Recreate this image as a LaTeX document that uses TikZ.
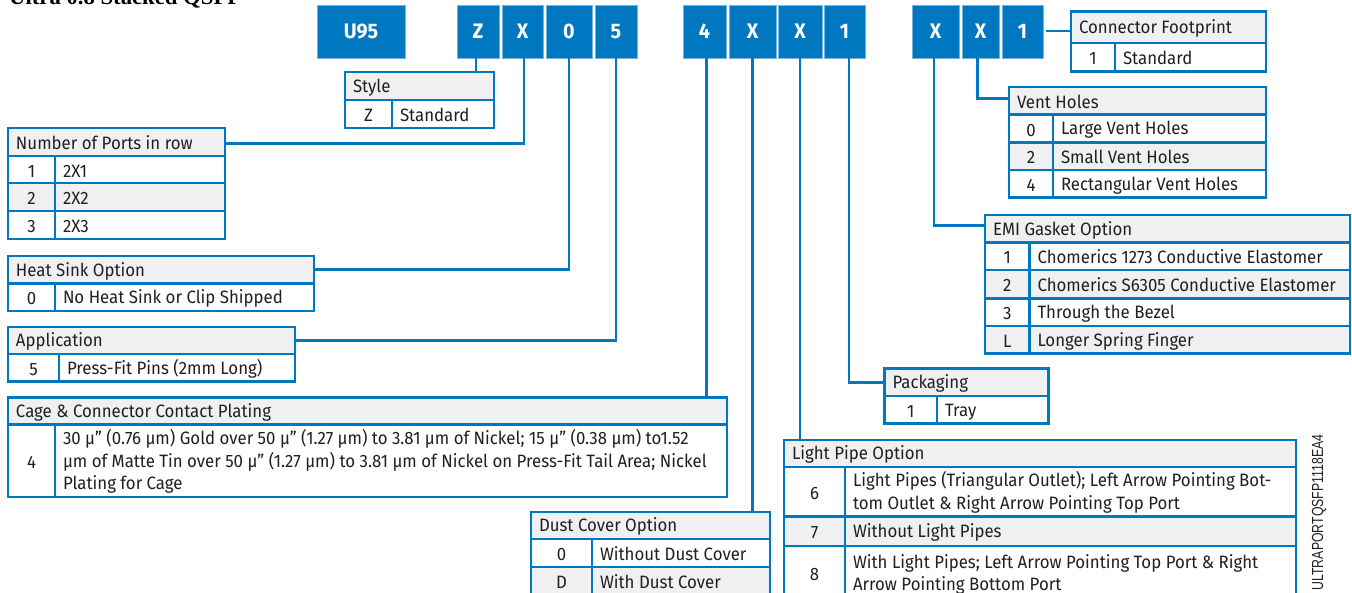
\documentclass[tikz,border=0pt]{standalone}
\usepackage{fontspec}
\setmainfont{Fira Sans}[FakeStretch=0.94]
\newfontfamily\idfont{Liberation Sans}[FakeStretch=0.77]
\newfontfamily\titlefont{Liberation Serif}
\definecolor{teblue}{RGB}{0,120,193}
\definecolor{tegray}{RGB}{239,240,242}
\definecolor{tetext}{RGB}{35,31,32}
\newcommand\tabfont{\fontsize{17.9}{22.5}\selectfont}
\newcommand\tstrut{\rule[-1pt]{0pt}{17.4pt}}
\tikzset{
  codebox/.style={fill=teblue, draw=teblue!55!white, line width=0.8pt, text=white,
    font=\fontsize{21}{24}\selectfont\bfseries, minimum height=53pt, inner sep=0pt,
    outer sep=0pt, anchor=north west},
  hdrcell/.style={fill=tegray, draw=teblue, line width=2.7pt, inner xsep=8pt, inner ysep=0pt,
    outer sep=0pt, anchor=north west, text=tetext, font=\tabfont},
  keycell/.style={draw=teblue, line width=2.7pt, inner sep=0pt, outer sep=0pt,
    anchor=north west, text=tetext, font=\tabfont},
  desccell/.style={draw=teblue, line width=2.7pt, inner xsep=8pt, inner ysep=0pt,
    outer sep=0pt, anchor=north west, text=tetext, font=\tabfont},
  link/.style={draw=teblue, line width=2.7pt}
}
% header: name, x1, x2, y1, y2, text
\newcommand\hdr[6]{\node[hdrcell, minimum width={(#3-#2)*1pt}, minimum height={(#5-#4)*1pt}]
  (#1) at (#2,#4) {\parbox{\dimexpr#3pt-#2pt-16pt\relax}{\raggedright\tstrut #6\tstrut}};}
% row: name, x1, xd, x2, y1, y2, fill, key, desc
\newcommand\krow[9]{%
  \node[keycell, fill=#7, minimum width={(#3-#2)*1pt}, minimum height={(#6-#5)*1pt}]
    (#1k) at (#2,#5) {\tstrut #8};
  \node[desccell, fill=#7, minimum width={(#4-#3)*1pt}, minimum height={(#6-#5)*1pt}]
    (#1d) at (#3,#5) {\parbox{\dimexpr#4pt-#3pt-16pt\relax}{\raggedright\tstrut #9\tstrut}};}
% code box: name, x1, x2, text
\newcommand\cbox[4]{\node[codebox, minimum width={(#3-#2)*1pt}] (#1) at (#2,5) {#4};}

\begin{document}
\begin{tikzpicture}[x=1pt,y=-1pt]
\useasboundingbox (0,0) rectangle (1352,592);
\clip (0,0) rectangle (1352,592);
\fill[white] (0,0) rectangle (1352,592);

% title (cut off at the top)
\node[font=\titlefont\bfseries\fontsize{22.7}{24}\selectfont, text=black, anchor=base west,
  inner sep=0pt] (title) at (9,4.2) {Ultra 0.8 Stacked QSFP};

% code boxes
\cbox{bU}{317}{405}{U95}
\cbox{bZ}{457}{499}{Z}
\cbox{bXa}{502}{543}{X}
\cbox{bO}{546}{592}{0}
\cbox{bFive}{595}{637}{5}
\cbox{bFour}{683}{726}{4}
\cbox{bXb}{729}{776}{X}
\cbox{bXc}{778}{822}{X}
\cbox{bOne}{824}{865}{1}
\cbox{bXd}{912}{959}{X}
\cbox{bXe}{962}{999}{X}
\cbox{bOneb}{1002}{1043}{1}

% tables
\hdr{style}{345}{494}{72}{100}{Style}
\krow{stz}{345}{392}{494}{100}{128}{white}{Z}{Standard}

\hdr{ports}{8}{225}{128}{156}{Number of Ports in row}
\krow{pa}{8}{55}{225}{156}{183}{white}{1}{2X1}
\krow{pb}{8}{55}{225}{183}{211}{tegray}{2}{2X2}
\krow{pc}{8}{55}{225}{211}{239}{white}{3}{2X3}

\hdr{heat}{8}{314}{256}{283.5}{Heat Sink Option}
\krow{ha}{8}{55}{314}{283.5}{311}{white}{0}{No Heat Sink or Clip Shipped}

\hdr{app}{8}{295}{327}{354}{Application}
\krow{aa}{8}{59}{295}{354}{381.5}{white}{5}{Press-Fit Pins (2mm Long)}

\hdr{cage}{8}{727}{397.5}{424.5}{Cage \& Connector Contact Plating}
\krow{ca}{8}{55}{727}{424.5}{497}{white}{4}{30 µ” (0.76 µm) Gold over 50 µ” (1.27 µm) to 3.81 µm of Nickel; 15 µ” (0.38 µm) to1.52\\µm of Matte Tin over 50 µ” (1.27 µm) to 3.81 µm of Nickel on Press-Fit Tail Area; Nickel\\Plating for Cage}

\hdr{dust}{531}{770}{512}{539}{Dust Cover Option}
\krow{da}{531}{592}{770}{539}{567}{white}{0}{Without Dust Cover}
\krow{db}{531}{592}{770}{567}{595}{tegray}{D}{With Dust Cover}

\hdr{light}{784}{1296}{440}{467}{Light Pipe Option}
\krow{la}{784}{845}{1296}{467}{516.5}{white}{6}{Light Pipes (Triangular Outlet); Left Arrow Pointing Bot-\\tom Outlet \& Right Arrow Pointing Top Port}
\krow{lb}{784}{845}{1296}{516.5}{546}{tegray}{7}{Without Light Pipes}
\krow{lc}{784}{845}{1296}{546}{600}{white}{8}{With Light Pipes; Left Arrow Pointing Top Port \& Right\\Arrow Pointing Bottom Port}

\hdr{pack}{884.5}{1048.5}{368.5}{396}{Packaging}
\krow{ka}{884.5}{937}{1048.5}{396}{423.5}{white}{1}{Tray}

\hdr{emi}{985}{1350}{215}{242.5}{EMI Gasket Option}
\krow{ea}{985}{1029.5}{1350}{242.5}{270}{white}{1}{Chomerics 1273 Conductive Elastomer}
\krow{eb}{985}{1029.5}{1350}{270}{298.3}{tegray}{2}{Chomerics S6305 Conductive Elastomer}
\krow{ec}{985}{1029.5}{1350}{298.3}{326}{white}{3}{Through the Bezel}
\krow{ed}{985}{1029.5}{1350}{326}{353.5}{tegray}{L}{Longer Spring Finger}

\hdr{vent}{1009}{1266}{87}{114.5}{Vent Holes}
\krow{va}{1009}{1053}{1266}{114.5}{142.3}{white}{0}{Large Vent Holes}
\krow{vb}{1009}{1053}{1266}{142.3}{170}{tegray}{2}{Small Vent Holes}
\krow{vc}{1009}{1053}{1266}{170}{197.7}{white}{4}{Rectangular Vent Holes}

\hdr{foot}{1071}{1266}{11.5}{43}{Connector Footprint}
\krow{fa}{1071}{1115}{1266}{43}{71.5}{white}{1}{Standard}

% connectors
\draw[link] ([xshift=-2pt]bZ.south) -- ([xshift=-2pt]bZ.south |- style.north);
\draw[link] ([xshift=1.5pt]bXa.south) |- ([yshift=-1.3pt]ports.east);
\draw[link] (bO.south) |- (heat.east);
\draw[link] (bFive.south) |- (app.east);
\draw[link] ([xshift=2pt]bFour.south) -- ([xshift=2pt]bFour.south |- cage.north);
\draw[link] (bXb.south) -- (bXb.south |- dust.north);
\draw[link] (bXc.south) -- (bXc.south |- light.north);
\draw[link] ([xshift=4.5pt]bOne.south) |- (pack.west);
\draw[link] ([xshift=-1.5pt]bXd.south) |- ([yshift=3.5pt]emi.west);
\draw[link] ([xshift=-3pt]bXe.south) |- ([yshift=2pt]vent.west);
\draw[link] ([yshift=-3.8pt]foot.west) -- ([yshift=-3.8pt, xshift=2.6pt]foot.west -| bOneb.east);

% document id
\node[rotate=90, font=\idfont\fontsize{16}{18}\selectfont, text=tetext, inner sep=0pt]
  (docid) at (1319,512.5) {ULTRAPORTQSFP1118EA4};
\end{tikzpicture}
\end{document}
